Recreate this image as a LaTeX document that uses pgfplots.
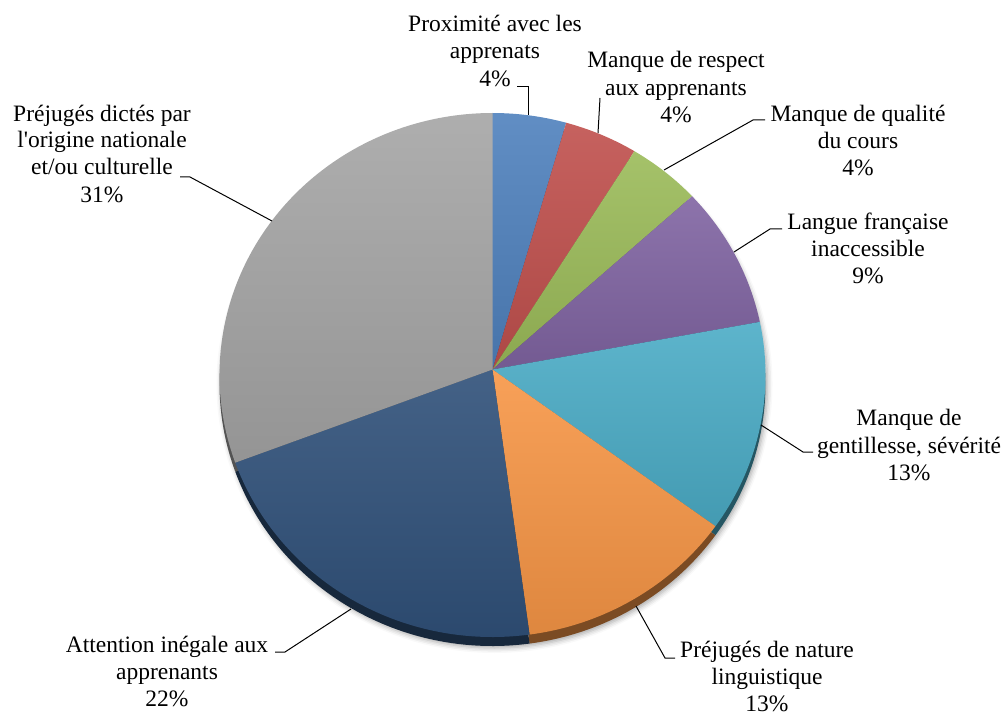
\documentclass[border=0pt]{standalone}
\usepackage{pgfplots}
\pgfplotsset{compat=1.18}
\usepackage{fontspec}
\setmainfont{Liberation Serif}
\usetikzlibrary{calc,shadows.blur}
\definecolor{cBlue}{HTML}{4F81BD}
\definecolor{cRed}{HTML}{C0504D}
\definecolor{cGreen}{HTML}{9BBB59}
\definecolor{cPurple}{HTML}{8064A2}
\definecolor{cAqua}{HTML}{4BACC6}
\definecolor{cOrange}{HTML}{F79646}
\definecolor{cNavy}{HTML}{2F5079}
\definecolor{cGray}{HTML}{A5A5A5}
% share of each slice (%) / colour, clockwise from the top
\newcommand\pievalues{4.35/cBlue,4.35/cRed,4.35/cGreen,8.70/cPurple,13.04/cAqua,13.04/cOrange,21.74/cNavy,30.43/cGray}
\newcommand\lblfont{\fontsize{23.5}{28}\selectfont}
\newcommand\lbl[3]{\node[anchor=base,inner sep=0pt,font=\lblfont] at (axis cs:#1,#2) {#3};}
\begin{document}
\begin{tikzpicture}
\begin{axis}[x=1pt,y=1pt,xmin=0,xmax=1006,ymin=0,ymax=716,hide axis,clip=false]
\addplot[draw=none] coordinates {(0,0) (1006,716)};
% soft shadow
\fill[white, blur shadow={shadow xshift=2pt, shadow yshift=-5pt, shadow blur radius=5pt, shadow opacity=35}] (axis cs:492.5,337) ellipse [x radius=273pt, y radius=264pt];
% 3D rim
\gdef\cum{0}
\foreach \v/\c in \pievalues {
  \pgfmathsetmacro\sa{90-3.6*\cum}
  \pgfmathsetmacro\sb{90-3.6*(\cum+\v)}
  \pgfmathsetmacro\newcum{\cum+\v}
  \xdef\cum{\newcum}
  \edef\temp{\noexpand\fill[\c!50!black] (axis cs:492.5,337.5) -- ([shift={(axis cs:492.5,332)}]\sa:273pt and 262pt) arc[start angle=\sa, end angle=\sb, x radius=273pt, y radius=262pt] -- cycle;}
  \temp
}
% faces
\gdef\cum{0}
\foreach \v/\c in \pievalues {
  \pgfmathsetmacro\sa{90-3.6*\cum}
  \pgfmathsetmacro\sb{90-3.6*(\cum+\v)}
  \pgfmathsetmacro\newcum{\cum+\v}
  \xdef\cum{\newcum}
  \edef\temp{\noexpand\path[top color=\c!90!white, bottom color=\c!90!black] (axis cs:492.5,346.5) -- ([shift={(axis cs:492.5,341)}]\sa:273pt and 262pt) arc[start angle=\sa, end angle=\sb, x radius=273pt, y radius=262pt] -- cycle;}
  \temp
}
% leader lines
\draw[line width=1pt] (axis cs:517,629) -- (axis cs:528,629) -- (axis cs:528,601);
\draw[line width=1pt] (axis cs:600,618) -- (axis cs:598,583);
\draw[line width=1pt] (axis cs:765,596) -- (axis cs:753,596) -- (axis cs:664,546);
\draw[line width=1pt] (axis cs:782,487) -- (axis cs:770,487) -- (axis cs:734,464);
\draw[line width=1pt] (axis cs:813,264) -- (axis cs:803,264) -- (axis cs:761,291);
\draw[line width=1pt] (axis cs:675,58) -- (axis cs:665,58) -- (axis cs:636,110);
\draw[line width=1pt] (axis cs:275,64) -- (axis cs:285,64) -- (axis cs:351,107);
\draw[line width=1pt] (axis cs:180,539) -- (axis cs:190,539) -- (axis cs:272,495);
% labels
\lbl{495}{684}{Proximité avec les}
\lbl{495}{657}{apprenats}
\lbl{495}{629}{4\%}
\lbl{676}{648}{Manque de respect}
\lbl{676}{620}{aux apprenants}
\lbl{676}{593}{4\%}
\lbl{858}{594}{Manque de qualité}
\lbl{858}{567}{du cours}
\lbl{858}{540}{4\%}
\lbl{868}{486}{Langue française}
\lbl{868}{459}{inaccessible}
\lbl{868}{432}{9\%}
\lbl{909}{291}{Manque de}
\lbl{909}{263}{gentillesse, sévérité}
\lbl{909}{236}{13\%}
\lbl{767}{59}{Préjugés de nature}
\lbl{767}{32}{linguistique}
\lbl{767}{5}{13\%}
\lbl{167}{64}{Attention inégale aux}
\lbl{167}{37}{apprenants}
\lbl{167}{10}{22\%}
\lbl{102}{594}{Préjugés dictés par}
\lbl{102}{568}{l\textquotesingle origine nationale}
\lbl{102}{541}{et/ou culturelle}
\lbl{102}{513}{31\%}
\end{axis}
\end{tikzpicture}
\end{document}
